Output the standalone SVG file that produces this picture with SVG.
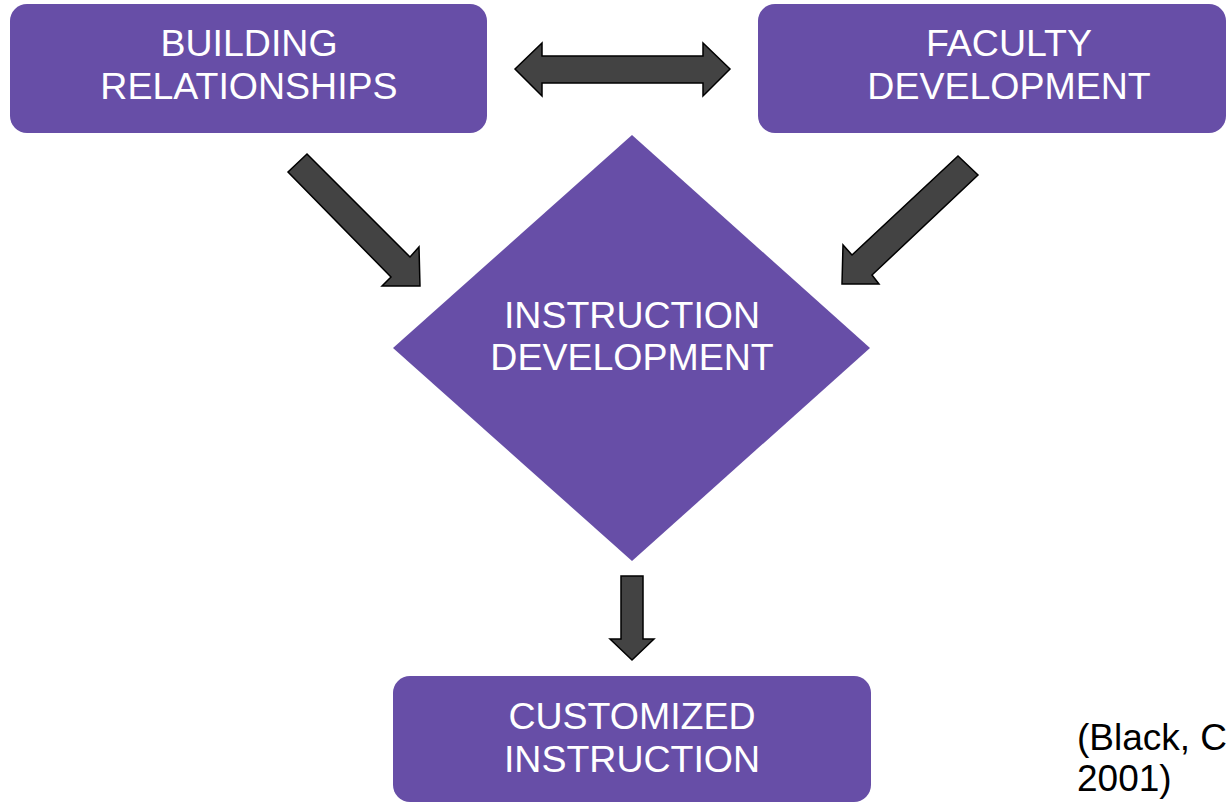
<svg xmlns="http://www.w3.org/2000/svg" width="1227" height="803" viewBox="0 0 1227 803">
<style>
.node{fill:#674ea7;}
.lbl{font-family:"Liberation Sans",Arial,sans-serif;font-size:37.5px;fill:#ffffff;text-anchor:middle;}
.arr{fill:#434343;stroke:#000000;stroke-width:1.5;stroke-linejoin:miter;}
.cite{font-family:"Liberation Sans",Arial,sans-serif;font-size:37px;fill:#000000;}
</style>
<rect width="1227" height="803" fill="#ffffff"/>
<g id="connectors">
<polygon class="arr" points="515,69 542,43 542,56 703,56 703,43 730,69 703,96 703,83 542,83 542,96"/>
<polygon class="arr" points="307,154 410,257 419,247 420,286 382,286 391,277 288,172"/>
<polygon class="arr" points="958,156 978,175 872,275 879,284 842,284 843,245 852,255"/>
<polygon class="arr" points="621,576 643,576 643,639 654,639 632,660 610,639 621,639"/>
</g>
<g id="building-relationships">
<rect class="node" x="10" y="4" width="477" height="129" rx="17" ry="17"/>
<text class="lbl" x="249" y="56">BUILDING</text>
<text class="lbl" x="249" y="99">RELATIONSHIPS</text>
</g>
<g id="faculty-development">
<rect class="node" x="758" y="4" width="468" height="129" rx="17" ry="17"/>
<text class="lbl" x="1009" y="56">FACULTY</text>
<text class="lbl" x="1009" y="99">DEVELOPMENT</text>
</g>
<g id="instruction-development">
<polygon class="node" points="632,135 870,348 632,561 393,348"/>
<text class="lbl" x="632" y="328">INSTRUCTION</text>
<text class="lbl" x="632" y="370">DEVELOPMENT</text>
</g>
<g id="customized-instruction">
<rect class="node" x="393" y="676" width="478" height="126" rx="17" ry="17"/>
<text class="lbl" x="632" y="729">CUSTOMIZED</text>
<text class="lbl" x="632" y="772">INSTRUCTION</text>
</g>
<g id="citation">
<text class="cite" x="1077" y="750">(Black, C</text>
<text class="cite" x="1077" y="791">2001)</text>
</g>
</svg>
